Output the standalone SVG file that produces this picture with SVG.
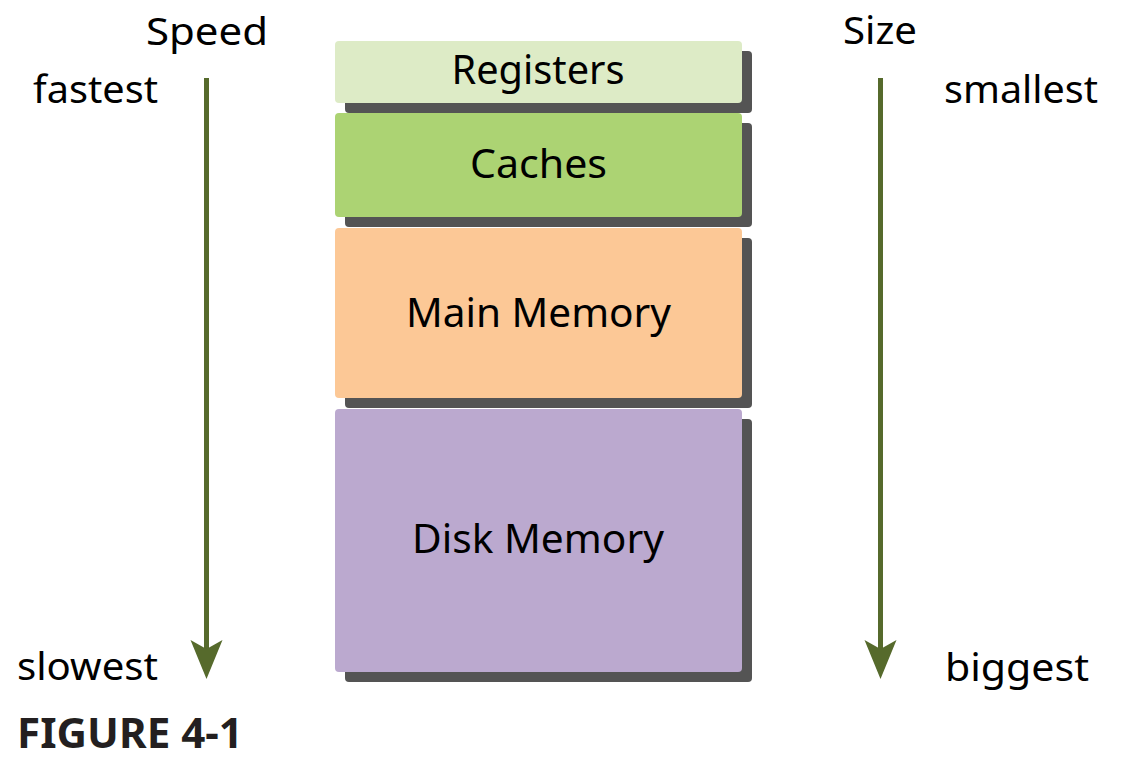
<svg xmlns="http://www.w3.org/2000/svg" width="1125" height="774" viewBox="0 0 1125 774">
<style>
  .lbl { font-family: "Noto Sans", "Open Sans", sans-serif; font-size: 39px; fill: #000; }
  .box { font-family: "Noto Sans", "Open Sans", sans-serif; font-size: 40px; fill: #000; text-anchor: middle; }
  .shadow { fill: #545454; }
  .axis { stroke: #566A2C; stroke-width: 5; fill: none; }
  .head { fill: #566A2C; }
  .fig { font-family: "Noto Sans", "Open Sans", sans-serif; font-size: 41px; font-weight: bold; fill: #231F20; }
</style>
<rect width="1125" height="774" fill="#fff"/>
<g id="registers">
  <rect class="shadow" x="345" y="51" width="407" height="62" rx="4"/>
  <rect x="335" y="41" width="407" height="62" rx="4" fill="#DDEBC6"/>
  <text class="box" x="538" y="84" textLength="173" lengthAdjust="spacingAndGlyphs">Registers</text>
</g>
<g id="caches">
  <rect class="shadow" x="345" y="123" width="407" height="104" rx="4"/>
  <rect x="335" y="113" width="407" height="104" rx="4" fill="#ACD373"/>
  <text class="box" x="538.5" y="178" textLength="137" lengthAdjust="spacingAndGlyphs">Caches</text>
</g>
<g id="main-memory">
  <rect class="shadow" x="345" y="238" width="407" height="170" rx="4"/>
  <rect x="335" y="228" width="407" height="170" rx="4" fill="#FCC896"/>
  <text class="box" x="538.5" y="327" textLength="265" lengthAdjust="spacingAndGlyphs">Main Memory</text>
</g>
<g id="disk-memory">
  <rect class="shadow" x="345" y="419" width="407" height="263" rx="4"/>
  <rect x="335" y="409" width="407" height="263" rx="4" fill="#BBA9CF"/>
  <text class="box" x="538" y="553" textLength="252" lengthAdjust="spacingAndGlyphs">Disk Memory</text>
</g>
<g id="connectors">
  <line class="axis" x1="206.5" y1="78" x2="206.5" y2="650"/>
  <polygon class="head" points="190.5,640 206.5,649 222.5,640 206.5,679"/>
  <line class="axis" x1="880.5" y1="78" x2="880.5" y2="650"/>
  <polygon class="head" points="864.5,640 880.5,649 896.5,640 880.5,679"/>
</g>
<g id="labels">
  <text class="lbl" x="146" y="45" textLength="122" lengthAdjust="spacingAndGlyphs">Speed</text>
  <text class="lbl" x="33" y="103" textLength="125" lengthAdjust="spacingAndGlyphs">fastest</text>
  <text class="lbl" x="17" y="680" textLength="141" lengthAdjust="spacingAndGlyphs">slowest</text>
  <text class="lbl" x="843" y="44" textLength="74" lengthAdjust="spacingAndGlyphs">Size</text>
  <text class="lbl" x="944" y="103" textLength="154" lengthAdjust="spacingAndGlyphs">smallest</text>
  <text class="lbl" x="945" y="681" textLength="144" lengthAdjust="spacingAndGlyphs">biggest</text>
  <text class="fig" x="17" y="748" textLength="226" lengthAdjust="spacingAndGlyphs">FIGURE 4-1</text>
</g>
</svg>
